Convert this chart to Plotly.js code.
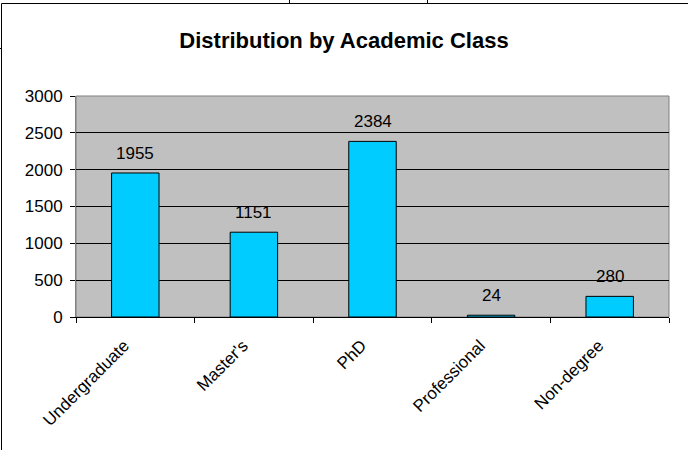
<!DOCTYPE html>
<html>
<head>
<meta charset="utf-8">
<script src="https://cdn.plot.ly/plotly-3.0.1.min.js"></script>
<style>
html,body{margin:0;padding:0;background:#fff;}
#chart{width:688px;height:450px;}
</style>
</head>
<body>
<div id="chart"></div>
<script>
const categories = ["Undergraduate", "Master's", "PhD", "Professional", "Non-degree"];
const counts = [1955, 1151, 2384, 24, 280];
const yTicks = [0, 500, 1000, 1500, 2000, 2500, 3000];

const W = 688, H = 450;
const L = 76, R = 19, T = 96, B = 133;
const pw = W - L - R, ph = H - T - B;
function px(x){ return (x - L) / pw; }
function py(y){ return (H - B - y) / ph; }

const font = 'Arial, "Liberation Sans", sans-serif';

const trace = {
  type: 'bar',
  x: categories,
  y: counts,
  marker: {color: '#00CCFF', line: {color: '#000000', width: 1}},
  hoverinfo: 'x+y'
};

const labelAnnotations = categories.map((c, i) => ({
  x: c, y: counts[i], xref: 'x', yref: 'y',
  text: String(counts[i]),
  showarrow: false,
  xanchor: 'center', yanchor: 'bottom',
  yshift: 8,
  font: {family: font, size: 17, color: '#000'}
}));

const layout = {
  width: W, height: H,
  margin: {l: L, r: R, t: T, b: B, pad: 0},
  paper_bgcolor: '#ffffff',
  plot_bgcolor: '#C0C0C0',
  bargap: 0.6,
  showlegend: false,
  font: {family: font, size: 17, color: '#000'},
  title: {
    text: '<b>Distribution by Academic Class</b>',
    font: {family: font, size: 22, color: '#000'},
    x: 0.5, xanchor: 'center', xref: 'container',
    y: 1 - 40 / H, yanchor: 'middle', yref: 'container'
  },
  xaxis: {
    type: 'category',
    tickangle: -45,
    ticks: 'outside', ticklen: 5, tickcolor: '#000', tickwidth: 1,
    tickson: 'boundaries',
    ticklabelstandoff: 11,
    ticklabelshift: -11,
    showline: true, linecolor: '#000', linewidth: 1,
    showgrid: false,
    tickfont: {family: font, size: 17, color: '#000'},
    fixedrange: true
  },
  yaxis: {
    range: [0, 3000],
    tickvals: yTicks,
    ticktext: yTicks.map(String),
    ticks: 'outside', ticklen: 5, tickcolor: '#000', tickwidth: 1,
    ticklabelstandoff: 4,
    showline: true, linecolor: '#808080', linewidth: 1,
    showgrid: true, gridcolor: '#000', gridwidth: 1,
    zeroline: false,
    tickfont: {family: font, size: 17, color: '#000'},
    fixedrange: true
  },
  annotations: labelAnnotations,
  shapes: [
    {type: 'rect', xref: 'paper', yref: 'paper', x0: 0, x1: 1, y0: 0, y1: 1,
     line: {color: '#808080', width: 1}, layer: 'below', fillcolor: 'rgba(0,0,0,0)'},
    {type: 'rect', xref: 'paper', yref: 'paper', x0: px(1.5), x1: px(700), y0: py(3.5), y1: py(470),
     line: {color: '#000', width: 1}, fillcolor: 'rgba(0,0,0,0)'},
    {type: 'line', xref: 'paper', yref: 'paper', x0: px(289.5), x1: px(289.5), y0: py(-2), y1: py(3.5),
     line: {color: '#000', width: 1}},
    {type: 'line', xref: 'paper', yref: 'paper', x0: px(427.5), x1: px(427.5), y0: py(-2), y1: py(3.5),
     line: {color: '#000', width: 1}},
    {type: 'line', xref: 'paper', yref: 'paper', x0: px(-2), x1: px(1.5), y0: py(48.5), y1: py(48.5),
     line: {color: '#000', width: 1}}
  ]
};

Plotly.newPlot('chart', [trace], layout, {staticPlot: true, displayModeBar: false});
</script>
</body>
</html>
